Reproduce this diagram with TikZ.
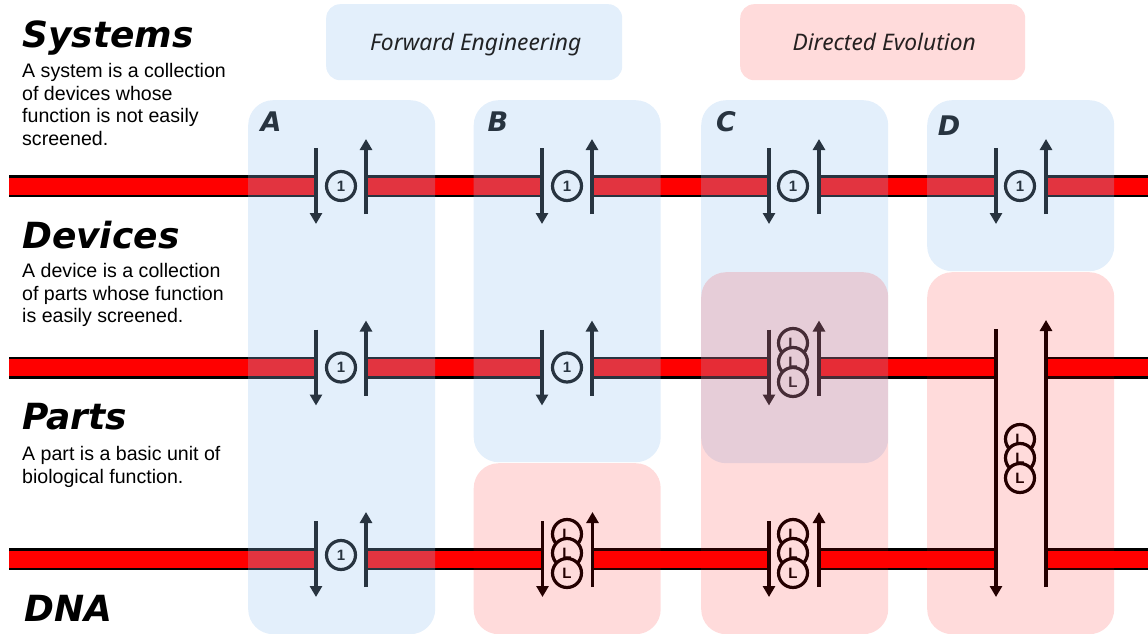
\documentclass[tikz,border=0pt]{standalone}
\usepackage{fontspec}
\usepackage{xcolor}
\usetikzlibrary{arrows.meta}
\setmainfont{Liberation Sans}
\newfontfamily\headfont{DejaVu Sans}
\newfontfamily\boxfont{Noto Sans}
\definecolor{panelblue}{RGB}{150,195,240}
\definecolor{panelred}{RGB}{255,0,0}

% the two opposed arrows of a gene, name / x of circle / y of strand
\newcommand{\genepair}[3]{
    \coordinate (#1lt) at (#2-25,#3-38);
    \coordinate (#1lb) at (#2-25,#3+38);
    \coordinate (#1rb) at (#2+25,#3+28);
    \coordinate (#1rt) at (#2+25,#3-47);
    \draw[genearrow] (#1lt) -- (#1lb);
    \draw[genearrow] (#1rb) -- (#1rt);
}
% stack of three L circles, name / x / y of top circle
\newcommand{\partstack}[3]{
    \node[partcircle] (#1top) at (#2,#3) {L};
    \node[partcircle] (#1mid) at (#2,#3+19) {L};
    \node[partcircle] (#1low) at (#2,#3+39) {L};
}

\begin{document}
\begin{tikzpicture}[x=1pt,y=-1pt]
    \tikzset{strand/.style={draw=black,line width=2.5pt,double=red,double distance=17pt},
        genearrow/.style={draw=black,line width=3.2pt,-{Triangle[width=12pt,length=11pt]}},
        partcircle/.style={draw=black,line width=3.2pt,circle,fill=white,inner sep=0pt,
            minimum size=29pt,font=\fontsize{15}{15}\selectfont\bfseries},
        blankpanel/.style={anchor=north west,inner sep=0pt,rounded corners=25pt,minimum width=187pt},
        bluepanel/.style={blankpanel,fill=panelblue,fill opacity=.27},
        redpanel/.style={blankpanel,fill=panelred,fill opacity=.14},
        heading/.style={anchor=base west,inner sep=0pt,
            font=\headfont\fontsize{36}{36}\selectfont\bfseries\itshape},
        blurb/.style={anchor=north west,inner sep=0pt,align=left,
            font=\fontsize{19.6}{22.6}\selectfont},
        letter/.style={anchor=base,inner sep=0pt,
            font=\headfont\fontsize{27}{27}\selectfont\bfseries\itshape},
        topbox/.style={anchor=north west,inner sep=0pt,rounded corners=14pt,minimum height=76pt,
            text height=20pt,text depth=4pt,
            text=black,text opacity=.85,font=\boxfont\fontsize{22.8}{22.8}\selectfont\itshape}}
    \useasboundingbox (0,0) rectangle (1148,634);

    % strands
    \foreach \row/\ypos in {1/186,2/367.5,3/559} {
        \coordinate (s\row a) at (9,\ypos);
        \coordinate (s\row b) at (316,\ypos);
        \coordinate (s\row c) at (366,\ypos);
        \coordinate (s\row d) at (542,\ypos);
        \coordinate (s\row e) at (592,\ypos);
        \coordinate (s\row f) at (769,\ypos);
        \coordinate (s\row g) at (819,\ypos);
        \coordinate (s\row h) at (996,\ypos);
        \coordinate (s\row i) at (1046,\ypos);
        \coordinate (s\row j) at (1148,\ypos);
        \draw[strand] (s\row a) -- (s\row b);
        \draw[strand] (s\row c) -- (s\row d);
        \draw[strand] (s\row e) -- (s\row f);
        \draw[strand] (s\row g) -- (s\row h);
        \draw[strand] (s\row i) -- (s\row j);
    }

    % genes
    \foreach \col/\xpos/\xcirc in {a/341/341,b/567/567,c/794/793,d/1021/1020} {
        \genepair{\col one}{\xpos}{186}
        \node[partcircle] (\col onecirc) at (\xcirc,186) {1};
    }
    \foreach \col/\xpos in {a/341,b/567} {
        \genepair{\col two}{\xpos}{367.5}
        \node[partcircle] (\col twocirc) at (\xpos,367.5) {1};
    }
    \genepair{ctwo}{794}{367.5}
    \partstack{ctwo}{793}{343}
    \genepair{athree}{341}{559}
    \node[partcircle] (athreecirc) at (341,555) {1};
    \genepair{bthree}{567.5}{559}
    \partstack{bthree}{567}{534}
    \genepair{cthree}{794}{559}
    \partstack{cthree}{793}{534}

    % the long gene of D
    \coordinate (dlt) at (996,329);
    \coordinate (dlb) at (996,597);
    \coordinate (drb) at (1046,587);
    \coordinate (drt) at (1046,320);
    \draw[genearrow] (dlt) -- (dlb);
    \draw[genearrow] (drb) -- (drt);
    \partstack{dlong}{1020}{439}

    \node[letter] (letA) at (271,131) {A};
    \node[letter] (letB) at (498,131) {B};
    \node[letter] (letC) at (726,131) {C};
    \node[letter] (letD) at (949,135) {D};

    % panels
    \node[bluepanel,minimum height=534pt] (panelA) at (248,100) {};
    \node[bluepanel,minimum height=362pt] (panelB) at (473.5,100) {};
    \node[redpanel,minimum height=171pt] (panelBb) at (473.5,463) {};
    \node[bluepanel,minimum height=363pt] (panelC) at (701,100) {};
    \node[redpanel,minimum height=362pt] (panelCb) at (701,272) {};
    \node[bluepanel,minimum height=171pt] (panelD) at (927,100) {};
    \node[redpanel,minimum height=362pt] (panelDb) at (927,272) {};

    \node[topbox,fill=panelblue,fill opacity=.27,minimum width=296pt] (forward) at (326,4) {\hspace*{3pt}Forward Engineering};
    \node[topbox,fill=panelred,fill opacity=.14,minimum width=285pt] (directed) at (740,4) {\hspace*{3pt}Directed Evolution};

    % left column
    \node[heading] (systems) at (22,48) {Systems};
    \node[blurb] (systemstext) at (22,63) {A system is a collection\\of devices whose\\function is not easily\\screened.};
    \node[heading] (devices) at (22,248) {Devices};
    \node[blurb] (devicestext) at (22,263) {A device is a collection\\of parts whose function\\is easily screened.};
    \node[heading] (parts) at (22,429) {Parts};
    \node[blurb] (partstext) at (22,446) {A part is a basic unit of\\biological function.};
    \node[heading] (dna) at (24,621) {DNA};
\end{tikzpicture}
\end{document}
